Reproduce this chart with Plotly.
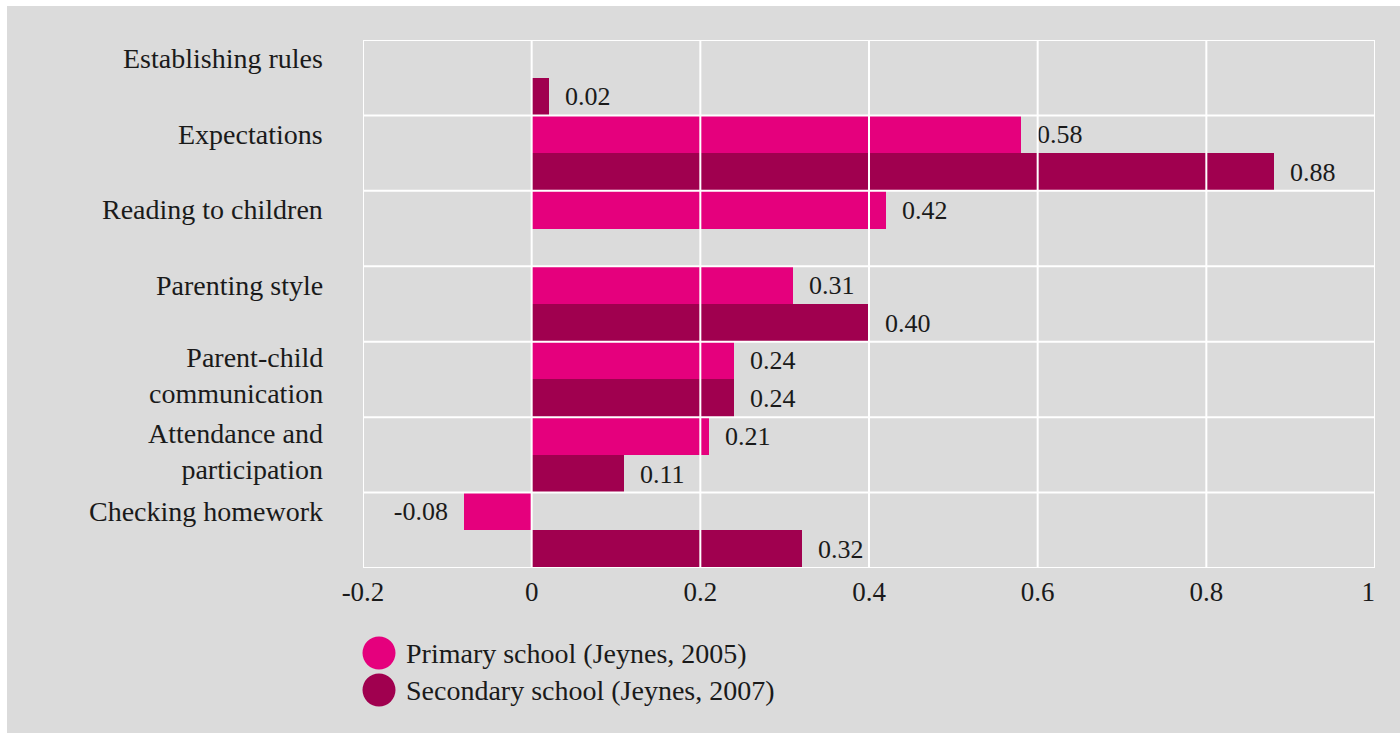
import plotly.graph_objects as go

categories = ["Establishing rules", "Expectations", "Reading to children", "Parenting style",
              "Parent-child<br>communication", "Attendance and<br>participation", "Checking homework"]
primary = [None, 0.58, 0.42, 0.31, 0.24, 0.21, -0.08]
secondary = [0.02, 0.88, None, 0.40, 0.24, 0.11, 0.32]
series_names = ["Primary school (Jeynes, 2005)", "Secondary school (Jeynes, 2007)"]
x_ticks = [-0.2, 0, 0.2, 0.4, 0.6, 0.8, 1]
x_ticktext = ["-0.2", "0", "0.2", "0.4", "0.6", "0.8", "1\u00a0\u00a0"]

PINK = "#e5007d"
DARK = "#a0004f"
BG = "#dbdbdb"
TXT = "#1a1a1a"
FONT = "Liberation Serif"
FS = 28

n = len(categories)
y_prim = [i for i in range(n)]
y_sec = [i + 0.5 for i in range(n)]


def lab(v):
    if v is None:
        return None
    s = f"{v:.2f}"
    return ("\u00a0\u00a0" + s) if v >= 0 else (s + "\u00a0\u00a0")


fig = go.Figure()
for vals, ys, col in [(primary, y_prim, PINK), (secondary, y_sec, DARK)]:
    fig.add_trace(go.Bar(
        x=vals, y=ys, orientation="h", width=0.5, marker=dict(color=col, line=dict(width=0)),
        text=[lab(v) for v in vals], textposition="outside", constraintext="none",
        textfont=dict(family=FONT, size=26, color=TXT), cliponaxis=False, showlegend=False,
    ))

shapes = []
for v in x_ticks:
    shapes.append(dict(type="line", xref="x", yref="paper", x0=v, x1=v, y0=0, y1=1,
                       line=dict(color="white", width=2), layer="above"))
for i in range(n + 1):
    b = i - 0.25
    shapes.append(dict(type="line", xref="paper", yref="y", x0=0, x1=1, y0=b, y1=b,
                       line=dict(color="white", width=2), layer="above"))

# white page strips top / left
L, R, T, B = 363, 25, 40, 165
PW, PH = 1400 - L - R, 733 - T - B
shapes.append(dict(type="rect", xref="paper", yref="paper", x0=-L / PW, x1=(7 - L) / PW,
                   y0=-B / PH - 0.1, y1=1 + T / PH + 0.1, fillcolor="white", line=dict(width=0), layer="below"))
shapes.append(dict(type="rect", xref="paper", yref="paper", x0=-L / PW, x1=1 + R / PW + 0.1,
                   y0=1 + (T - 6) / PH, y1=1 + T / PH + 0.1, fillcolor="white", line=dict(width=0), layer="below"))

annotations = []
LH = FS * 1.3
for i, c in enumerate(categories):
    nl = c.count("<br>") + 1
    annotations.append(dict(text=c, xref="paper", yref="y", x=0, y=y_prim[i], xanchor="right",
                            yanchor="middle", xshift=-38, yshift=-(nl - 1) * LH / 2 + (nl - 1) * 3,
                            align="right", showarrow=False, font=dict(family=FONT, size=FS, color=TXT)))

# legend
leg_y = [(568 - 653) / PH, (568 - 690) / PH]
for nm, col, yy in zip(series_names, [PINK, DARK], leg_y):
    shapes.append(dict(type="circle", xref="paper", yref="paper", xsizemode="pixel", ysizemode="pixel",
                       xanchor=16 / PW, yanchor=yy, x0=-16.5, x1=16.5, y0=-16.5, y1=16.5,
                       fillcolor=col, line=dict(width=0)))
    annotations.append(dict(text=nm, xref="paper", yref="paper", x=41 / PW, y=yy, xanchor="left",
                            yanchor="middle", showarrow=False, font=dict(family=FONT, size=FS, color=TXT)))

fig.update_layout(
    width=1400, height=733, margin=dict(l=L, r=R, t=T, b=B),
    paper_bgcolor=BG, plot_bgcolor=BG, barmode="overlay", bargap=0,
    font=dict(family=FONT, size=FS, color=TXT),
    xaxis=dict(range=[-0.2, 1], tickvals=x_ticks, ticktext=x_ticktext, showgrid=False, zeroline=False,
               showline=False, ticks="", tickfont=dict(family=FONT, size=27, color=TXT), ticklabelstandoff=5),
    yaxis=dict(range=[n - 0.25, -0.25], showticklabels=False, showgrid=False, zeroline=False,
               showline=False, ticks=""),
    shapes=shapes, annotations=annotations,
)

fig.write_html("out.html")
